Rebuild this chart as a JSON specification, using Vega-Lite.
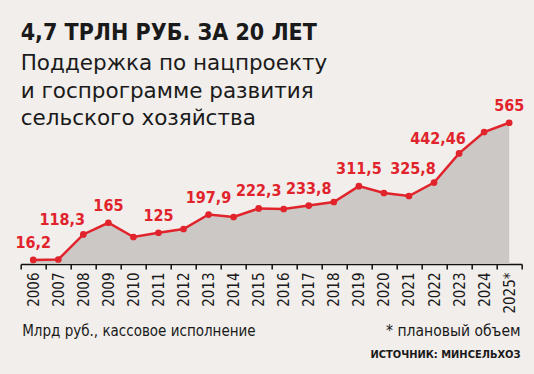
{
  "$schema": "https://vega.github.io/schema/vega-lite/v6.json",
  "width": 501,
  "height": 150,
  "autosize": {"type": "none"},
  "padding": {"left": 20.7, "top": 114, "right": 12.3, "bottom": 110},
  "background": "#f1eeeb",
  "title": {
    "text": "4,7 ТРЛН РУБ. ЗА 20 ЛЕТ",
    "subtitle": ["Поддержка по нацпроекту", "и госпрограмме развития", "сельского хозяйства"],
    "anchor": "start",
    "frame": "group",
    "offset": -32,
    "font": "DejaVu Sans Condensed",
    "fontSize": 23,
    "fontWeight": "bold",
    "color": "#1a1a1a",
    "subtitleFont": "DejaVu Sans",
    "subtitleFontSize": 21.5,
    "subtitleColor": "#1a1a1a",
    "subtitleLineHeight": 27.5,
    "subtitlePadding": 8
  },
  "config": {"view": {"stroke": null}},
  "data": {
    "values": [
      {"year": "2006", "value": 16.2, "label": "16,2"},
      {"year": "2007", "value": 18},
      {"year": "2008", "value": 118.3, "label": "118,3"},
      {"year": "2009", "value": 165, "label": "165"},
      {"year": "2010", "value": 108},
      {"year": "2011", "value": 125, "label": "125"},
      {"year": "2012", "value": 140},
      {"year": "2013", "value": 197.9, "label": "197,9"},
      {"year": "2014", "value": 188},
      {"year": "2015", "value": 222.3, "label": "222,3"},
      {"year": "2016", "value": 220},
      {"year": "2017", "value": 233.8, "label": "233,8"},
      {"year": "2018", "value": 248},
      {"year": "2019", "value": 311.5, "label": "311,5"},
      {"year": "2020", "value": 284},
      {"year": "2021", "value": 272},
      {"year": "2022", "value": 325.8, "label": "325,8"},
      {"year": "2023", "value": 442.46, "label": "442,46"},
      {"year": "2024", "value": 528},
      {"year": "2025*", "value": 565, "label": "565"}
    ]
  },
  "encoding": {
    "y": {"field": "value", "type": "quantitative", "scale": {"domain": [0, 600], "nice": false, "zero": true}, "axis": null}
  },
  "layer": [
    {
      "mark": {"type": "area", "color": "#cbc8c5"},
      "encoding": {
        "x": {
          "field": "year", "type": "ordinal",
          "scale": {"type": "band", "paddingInner": 0, "paddingOuter": 0},
          "axis": {
            "orient": "bottom",
            "title": "Млрд руб., кассовое исполнение",
            "titleFont": "DejaVu Sans Condensed", "titleFontSize": 15, "titleFontWeight": "normal", "titleColor": "#1a1a1a",
            "titleAnchor": "start", "titleAlign": "left", "titleX": 1, "titleY": 71, "titleBaseline": "alphabetic",
            "labelAngle": -90, "labelAlign": "right", "labelBaseline": "middle",
            "labelFont": "DejaVu Sans Condensed", "labelFontSize": 15, "labelColor": "#1a1a1a", "labelPadding": 3, "labelOverlap": false,
            "tickBand": "extent", "tickSize": 5, "tickColor": "#111111", "tickWidth": 1.5,
            "domainColor": "#111111", "domainWidth": 1.5, "grid": false
          }
        }
      }
    },
    {
      "mark": {"type": "line", "color": "#e1232b", "strokeWidth": 2.5},
      "encoding": {
        "x": {
          "field": "year", "type": "ordinal",
          "scale": {"type": "band", "paddingInner": 0, "paddingOuter": 0},
          "axis": {
            "orient": "bottom", "labels": false, "ticks": false, "domain": false, "grid": false,
            "title": "* плановый объем",
            "titleFont": "DejaVu Sans Condensed", "titleFontSize": 15.5, "titleFontWeight": "normal", "titleColor": "#1a1a1a",
            "titleAnchor": "end", "titleAlign": "right", "titleX": 499.3, "titleY": 71, "titleBaseline": "alphabetic"
          }
        }
      }
    },
    {
      "mark": {"type": "point", "filled": true, "color": "#e1232b", "size": 45, "opacity": 1},
      "encoding": {
        "x": {
          "field": "year", "type": "ordinal",
          "scale": {"type": "band", "paddingInner": 0, "paddingOuter": 0},
          "axis": {
            "orient": "bottom", "labels": false, "ticks": false, "domain": false, "grid": false,
            "title": "ИСТОЧНИК: МИНСЕЛЬХОЗ",
            "titleFont": "DejaVu Sans Condensed", "titleFontSize": 11, "titleFontWeight": "bold", "titleColor": "#1a1a1a",
            "titleAnchor": "end", "titleAlign": "right", "titleX": 499.3, "titleY": 93, "titleBaseline": "alphabetic"
          }
        }
      }
    },
    {
      "transform": [{"filter": "datum.label && indexof(['2008','2022','2023'], datum.year) < 0"}],
      "mark": {"type": "text", "font": "DejaVu Sans Condensed", "fontSize": 16, "fontWeight": "bold", "color": "#e1232b", "baseline": "alphabetic", "dy": -12},
      "encoding": {
        "x": {"field": "year", "type": "ordinal", "scale": {"type": "band", "paddingInner": 0, "paddingOuter": 0}, "axis": null},
        "text": {"field": "label"}
      }
    },
    {
      "transform": [{"filter": "indexof(['2008','2022','2023'], datum.year) >= 0"}],
      "mark": {"type": "text", "font": "DejaVu Sans Condensed", "fontSize": 16, "fontWeight": "bold", "color": "#e1232b", "baseline": "alphabetic", "dx": -21, "dy": -9},
      "encoding": {
        "x": {"field": "year", "type": "ordinal", "scale": {"type": "band", "paddingInner": 0, "paddingOuter": 0}, "axis": null},
        "text": {"field": "label"}
      }
    }
  ],
  "resolve": {"axis": {"x": "independent"}}
}
